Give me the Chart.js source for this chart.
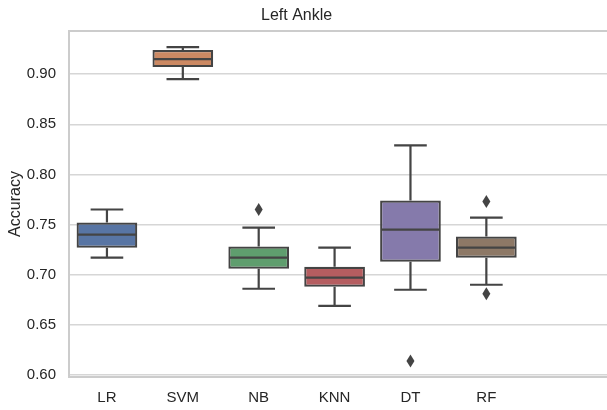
<!DOCTYPE html>
<html>
<head>
<meta charset="utf-8">
<script src="https://cdn.jsdelivr.net/npm/chart.js@4"></script>
<style>
  html, body { margin: 0; padding: 0; background: #fff; }
  #wrap { width: 607px; height: 410px; }
</style>
</head>
<body>
<div id="wrap"><canvas id="boxChart"></canvas></div>
<script>
// values
const models = ['LR', 'SVM', 'NB', 'KNN', 'DT', 'RF'];
const whiskerLow = [0.717, 0.895, 0.686, 0.669, 0.685, 0.690];
const q1 = [0.727, 0.907, 0.706, 0.688, 0.713, 0.717];
const median = [0.740, 0.915, 0.717, 0.697, 0.745, 0.727];
const q3 = [0.752, 0.924, 0.728, 0.708, 0.774, 0.738];
const whiskerHigh = [0.765, 0.927, 0.747, 0.727, 0.829, 0.757];
const outlierModel = [2, 4, 5, 5];
const outlierValue = [0.765, 0.614, 0.773, 0.681];
const yTicks = [0.60, 0.65, 0.70, 0.75, 0.80, 0.85, 0.90];
const boxColors = ['#5875a4', '#cc8963', '#5f9e6e', '#b55d60', '#857aab', '#8d7866'];

const lineColor = '#444444';
const textColor = '#262626';
const font = '"Liberation Sans", Arial, sans-serif';

const boxPlugin = {
    id: 'boxParts',
    afterDatasetsDraw(chart) {
        const ctx = chart.ctx;
        const x = chart.scales.x;
        const y = chart.scales.y;
        ctx.save();
        ctx.strokeStyle = lineColor;
        ctx.lineWidth = 2.2;
        models.forEach((m, i) => {
            const cx = x.getPixelForValue(i);
            const halfBox = (x.getPixelForValue(i + 0.4) - cx) - 1;
            const halfCap = x.getPixelForValue(i + 0.215) - cx;
            ctx.beginPath();
            // median
            ctx.moveTo(cx - halfBox, y.getPixelForValue(median[i]));
            ctx.lineTo(cx + halfBox, y.getPixelForValue(median[i]));
            // whiskers
            ctx.moveTo(cx, y.getPixelForValue(q3[i]));
            ctx.lineTo(cx, y.getPixelForValue(whiskerHigh[i]));
            ctx.moveTo(cx, y.getPixelForValue(q1[i]));
            ctx.lineTo(cx, y.getPixelForValue(whiskerLow[i]));
            // caps
            ctx.moveTo(cx - halfCap, y.getPixelForValue(whiskerHigh[i]));
            ctx.lineTo(cx + halfCap, y.getPixelForValue(whiskerHigh[i]));
            ctx.moveTo(cx - halfCap, y.getPixelForValue(whiskerLow[i]));
            ctx.lineTo(cx + halfCap, y.getPixelForValue(whiskerLow[i]));
            ctx.stroke();
        });
        // outliers as thin diamonds
        ctx.fillStyle = lineColor;
        outlierModel.forEach((m, k) => {
            const px = x.getPixelForValue(m);
            const py = y.getPixelForValue(outlierValue[k]);
            ctx.beginPath();
            ctx.moveTo(px, py - 6.5);
            ctx.lineTo(px + 4, py);
            ctx.lineTo(px, py + 6.5);
            ctx.lineTo(px - 4, py);
            ctx.closePath();
            ctx.fill();
        });
        ctx.restore();
    },
    afterDraw(chart) {
        const ctx = chart.ctx;
        const area = chart.chartArea;
        ctx.save();
        // axes frame
        ctx.strokeStyle = '#cccccc';
        ctx.lineWidth = 2;
        ctx.beginPath();
        ctx.moveTo(area.right + 5, area.top);
        ctx.lineTo(area.left, area.top);
        ctx.lineTo(area.left, area.bottom);
        ctx.lineTo(area.right + 5, area.bottom);
        ctx.stroke();
        // title, centred over the boxes
        ctx.fillStyle = textColor;
        ctx.font = '16px ' + font;
        ctx.textAlign = 'center';
        ctx.textBaseline = 'middle';
        ctx.fillText('Left Ankle', chart.scales.x.getPixelForValue(2.5), 16);
        ctx.restore();
    }
};

new Chart(document.getElementById('boxChart'), {
    type: 'bar',
    data: {
        datasets: [{
            label: 'Accuracy',
            data: models.map((m, i) => ({ x: i, y: [q1[i], q3[i]] })),
            backgroundColor: boxColors,
            borderColor: lineColor,
            borderWidth: 2.2,
            borderSkipped: false,
            barPercentage: 0.8,
            categoryPercentage: 1.0
        }]
    },
    options: {
        responsive: true,
        maintainAspectRatio: false,
        animation: false,
        layout: { padding: { top: 31, right: 0, left: 0, bottom: 0 } },
        plugins: {
            legend: { display: false },
            tooltip: { enabled: false }
        },
        scales: {
            x: {
                type: 'linear',
                offset: false,
                min: -0.5,
                max: 6.59,
                afterBuildTicks: axis => { axis.ticks = models.map((m, i) => ({ value: i })); },
                afterFit: axis => { axis.height = 33; },
                grid: { display: false, drawTicks: false, offset: false },
                border: { display: false },
                ticks: {
                    color: textColor,
                    font: { family: font, size: 15 },
                    padding: 12,
                    autoSkip: false,
                    maxRotation: 0,
                    callback: v => models[v]
                }
            },
            y: {
                min: 0.598,
                max: 0.943,
                afterBuildTicks: axis => { axis.ticks = yTicks.map(v => ({ value: v })); },
                afterFit: axis => { axis.width = 69; },
                grid: { color: '#d6d6d6', lineWidth: 1.5, drawTicks: false },
                border: { display: false },
                ticks: {
                    color: textColor,
                    font: { family: font, size: 15 },
                    padding: 13,
                    callback: v => v.toFixed(2)
                },
                title: {
                    display: true,
                    text: 'Accuracy',
                    color: textColor,
                    font: { family: font, size: 16 },
                    padding: { top: 6, bottom: 0 }
                }
            }
        }
    },
    plugins: [boxPlugin]
});
</script>
</body>
</html>
